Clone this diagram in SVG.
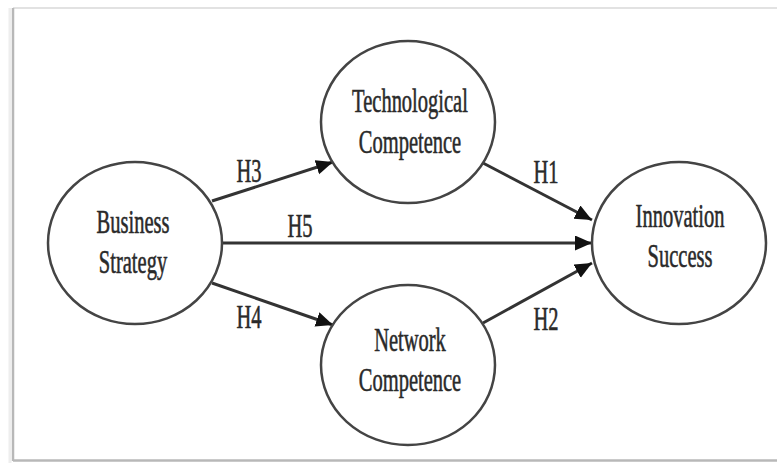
<svg xmlns="http://www.w3.org/2000/svg" width="777" height="463" viewBox="0 0 777 463">
<defs>
<marker id="ah" markerUnits="userSpaceOnUse" markerWidth="19" markerHeight="17" refX="17" refY="7.5" orient="auto">
<path d="M0,0 L17,7.5 L0,15 z" fill="#111"/>
</marker>
<style>
.node ellipse{fill:#fff;stroke:#444;stroke-width:2.5}
.lbl{font-family:"Liberation Serif","Times New Roman",serif;font-size:20.5px;fill:#2a2a2a;stroke:#2a2a2a;stroke-width:0.35;text-anchor:middle}
.edge{stroke:#333;stroke-width:3;fill:none;marker-end:url(#ah)}
</style>
</defs>
<rect width="777" height="463" fill="#fff"/>
<g id="frame">
<line x1="13" y1="8" x2="777" y2="8" stroke="#e2e2e2" stroke-width="2"/>
<line x1="13" y1="8" x2="13" y2="461" stroke="#b8b8b8" stroke-width="2.5"/>
<line x1="13" y1="460.5" x2="777" y2="460.5" stroke="#b8b8b8" stroke-width="2.5"/>
<line x1="10" y1="8" x2="10" y2="463" stroke="#eee" stroke-width="3"/>
</g>
<g id="connectors">
<line class="edge" x1="212" y1="201" x2="333" y2="162"/>
<line class="edge" x1="212" y1="283" x2="333" y2="325"/>
<line class="edge" x1="222" y1="243" x2="592" y2="243"/>
<line class="edge" x1="483" y1="163" x2="592" y2="220"/>
<line class="edge" x1="483" y1="323" x2="592" y2="263"/>
<text class="lbl" transform="translate(249,182) scale(1,1.65)">H3</text>
<text class="lbl" transform="translate(300,237) scale(1,1.65)">H5</text>
<text class="lbl" transform="translate(249,328) scale(1,1.65)">H4</text>
<text class="lbl" transform="translate(546,183) scale(1,1.65)">H1</text>
<text class="lbl" transform="translate(546,330) scale(1,1.65)">H2</text>
</g>
<g id="business-strategy" class="node">
<ellipse cx="135" cy="243" rx="87" ry="81"/>
<text class="lbl" transform="translate(133,233) scale(1,1.6)">Business</text>
<text class="lbl" transform="translate(133,273) scale(1,1.6)">Strategy</text>
</g>
<g id="technological-competence" class="node">
<ellipse cx="408" cy="122" rx="87" ry="81"/>
<text class="lbl" transform="translate(410,112) scale(1,1.6)">Technological</text>
<text class="lbl" transform="translate(410,153) scale(1,1.6)">Competence</text>
</g>
<g id="network-competence" class="node">
<ellipse cx="408" cy="365" rx="87" ry="80"/>
<text class="lbl" transform="translate(410,351) scale(1,1.6)">Network</text>
<text class="lbl" transform="translate(410,391) scale(1,1.6)">Competence</text>
</g>
<g id="innovation-success" class="node">
<ellipse cx="679" cy="243" rx="87" ry="81"/>
<text class="lbl" transform="translate(680,227) scale(1,1.6)">Innovation</text>
<text class="lbl" transform="translate(680,267) scale(1,1.6)">Success</text>
</g>
</svg>
